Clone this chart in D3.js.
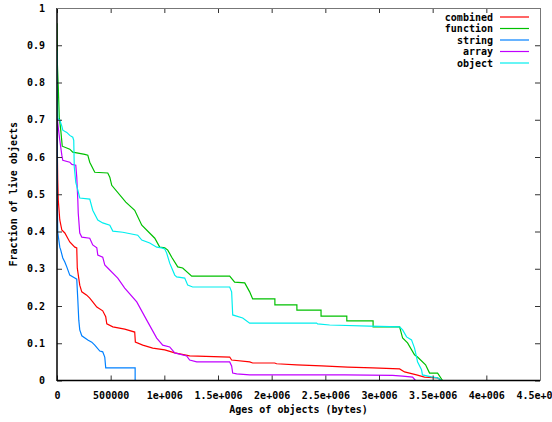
<!DOCTYPE html>
<html>
<head>
<meta charset="utf-8">
<script src="https://cdn.jsdelivr.net/npm/d3@7"></script>
<style>
  html, body { margin: 0; padding: 0; background: #fff; }
  svg { display: block; }
  text { font-family: "DejaVu Sans Mono", monospace; font-weight: bold; font-size: 10px; fill: #000; }
</style>
</head>
<body>
<div id="chart"></div>
<script>
// ---- Data (x: age in bytes, y: fraction of live objects) ----
const seriesNames = ["combined", "function", "string", "array", "object"];
const seriesColors = ["#ff0000", "#00c000", "#0080ff", "#c000ff", "#00eeee"];

const combinedData = [
  [0,0.720],[3000,0.618],[7000,0.538],[12000,0.484],[26000,0.431],[45000,0.404],[73000,0.396],
  [119000,0.372],[166000,0.358],[184000,0.356],[189000,0.302],[212000,0.256],[231000,0.238],
  [277000,0.229],[305000,0.221],[333000,0.211],[371000,0.197],[426000,0.187],[454000,0.171],
  [464000,0.152],[520000,0.144],[631000,0.138],[724000,0.130],[730000,0.103],[799000,0.095],
  [892000,0.087],[1004000,0.082],[1097000,0.074],[1236000,0.066],[1609000,0.063],[1627000,0.055],
  [1795000,0.050],[1823000,0.047],[2028000,0.047],[2046000,0.045],[2233000,0.042],[2466000,0.039],
  [2708000,0.036],[2941000,0.034],[3192000,0.031],[3238000,0.023],[3350000,0.015],[3424000,0.009],
  [3546000,0.007],[3583000,0]
];
const functionData = [
  [0,0.959],[3000,0.854],[12000,0.787],[21000,0.707],[35000,0.672],[49000,0.629],[119000,0.621],
  [147000,0.613],[259000,0.607],[287000,0.605],[305000,0.586],[352000,0.559],[473000,0.557],
  [492000,0.546],[510000,0.524],[641000,0.479],[724000,0.457],[790000,0.417],[911000,0.382],
  [957000,0.358],[1004000,0.356],[1032000,0.350],[1069000,0.331],[1125000,0.305],[1171000,0.302],
  [1255000,0.280],[1609000,0.280],[1655000,0.264],[1749000,0.262],[1795000,0.238],[1823000,0.219],
  [2030000,0.219],[2030000,0.203],[2235000,0.203],[2235000,0.189],[2460000,0.189],[2460000,0.173],
  [2700000,0.173],[2700000,0.160],[2945000,0.160],[2945000,0.144],[3192000,0.144],[3220000,0.114],
  [3266000,0.101],[3331000,0.069],[3359000,0.063],[3434000,0.042],[3471000,0.020],[3546000,0.020],
  [3592000,0]
];
const stringData = [
  [0,0.766],[3000,0.591],[3000,0.484],[7000,0.398],[26000,0.358],[35000,0.350],[54000,0.329],
  [73000,0.318],[91000,0.305],[119000,0.283],[166000,0.275],[184000,0.272],[194000,0.216],
  [203000,0.162],[212000,0.136],[231000,0.120],[287000,0.109],[324000,0.103],[352000,0.095],
  [399000,0.079],[426000,0.077],[445000,0.063],[454000,0.034],[728000,0.034],[728000,0],[1423000,0]
];
const arrayData = [
  [0,0.752],[3000,0.712],[7000,0.691],[26000,0.645],[45000,0.605],[54000,0.591],[119000,0.586],
  [138000,0.580],[175000,0.578],[184000,0.546],[194000,0.484],[198000,0.449],[212000,0.396],
  [231000,0.385],[305000,0.382],[333000,0.364],[371000,0.356],[380000,0.337],[426000,0.331],
  [445000,0.310],[473000,0.302],[566000,0.275],[631000,0.248],[743000,0.211],[836000,0.162],
  [929000,0.114],[985000,0.095],[1050000,0.090],[1097000,0.074],[1208000,0.066],[1236000,0.055],
  [1302000,0.050],[1609000,0.050],[1627000,0.039],[1637000,0.020],[1674000,0.018],[1795000,0.015],
  [2680000,0.015],[3127000,0.014],[3220000,0.012],[3313000,0.009],[3340000,0]
];
const objectData = [
  [0,0.886],[3000,0.779],[7000,0.704],[26000,0.699],[45000,0.683],[54000,0.672],[91000,0.666],
  [119000,0.658],[147000,0.653],[156000,0.645],[161000,0.573],[175000,0.532],[194000,0.511],
  [212000,0.490],[305000,0.487],[333000,0.457],[380000,0.431],[426000,0.423],[492000,0.417],
  [520000,0.401],[613000,0.398],[752000,0.390],[790000,0.377],[864000,0.369],[929000,0.358],
  [976000,0.356],[1004000,0.353],[1022000,0.342],[1050000,0.315],[1097000,0.283],[1115000,0.278],
  [1190000,0.275],[1218000,0.256],[1264000,0.251],[1609000,0.251],[1627000,0.238],[1637000,0.176],
  [1730000,0.168],[1795000,0.154],[2419000,0.154],[2428000,0.152],[2540000,0.149],[2912000,0.146],
  [3192000,0.144],[3220000,0.136],[3257000,0.117],[3303000,0.109],[3331000,0.087],[3350000,0.063],
  [3359000,0.050],[3396000,0.029],[3405000,0.015],[3499000,0.009],[3546000,0.007],[3583000,0]
];
const seriesData = [combinedData, functionData, stringData, arrayData, objectData];

const xTickValues = [0, 500000, 1000000, 1500000, 2000000, 2500000, 3000000, 3500000, 4000000, 4500000];
const xTickLabels = ["0", "500000", "1e+006", "1.5e+006", "2e+006", "2.5e+006", "3e+006", "3.5e+006", "4e+006", "4.5e+006"];
const yTickValues = [0, 0.1, 0.2, 0.3, 0.4, 0.5, 0.6, 0.7, 0.8, 0.9, 1];
const yTickLabels = ["0", "0.1", "0.2", "0.3", "0.4", "0.5", "0.6", "0.7", "0.8", "0.9", "1"];

const xTitle = "Ages of objects (bytes)";
const yTitle = "Fraction of live objects";

// ---- Layout ----
const W = 552, H = 422;
const L = 57, R = 540, T = 8, B = 380.5;

const svg = d3.select("#chart").append("svg").attr("width", W).attr("height", H);

const x = d3.scaleLinear().domain([0, 4500000]).range([L, R]);
const y = d3.scaleLinear().domain([0, 1]).range([B, T]);

svg.append("defs").append("clipPath").attr("id", "clip")
  .append("rect").attr("x", L).attr("y", T).attr("width", R - L).attr("height", B - T);

// Lines
const line = d3.line().x(d => x(d[0])).y(d => y(d[1]));
const plot = svg.append("g").attr("clip-path", "url(#clip)");
seriesData.forEach((data, i) => {
  plot.append("path").datum(data)
    .attr("d", line)
    .attr("fill", "none")
    .attr("stroke", seriesColors[i])
    .attr("stroke-width", 1.2)
    .attr("stroke-linejoin", "miter");
});

// Axes (ticks inward, mirrored)
const xFmt = (d, i) => xTickLabels[i];
const yFmt = (d, i) => yTickLabels[i];

const gxB = svg.append("g").attr("transform", `translate(0,${B})`)
  .call(d3.axisBottom(x).tickValues(xTickValues).tickFormat(xFmt).tickSizeInner(-5).tickSizeOuter(0).tickPadding(11));
const gxT = svg.append("g").attr("transform", `translate(0,${T})`)
  .call(d3.axisTop(x).tickValues(xTickValues).tickFormat("").tickSizeInner(-5).tickSizeOuter(0));
const gyL = svg.append("g").attr("transform", `translate(${L},0)`)
  .call(d3.axisLeft(y).tickValues(yTickValues).tickFormat(yFmt).tickSizeInner(-5).tickSizeOuter(0).tickPadding(12));
const gyR = svg.append("g").attr("transform", `translate(${R},0)`)
  .call(d3.axisRight(y).tickValues(yTickValues).tickFormat("").tickSizeInner(-5).tickSizeOuter(0));

[gxB, gxT, gyL, gyR].forEach(g => {
  g.select(".domain").remove();
  g.selectAll(".tick line").attr("stroke", "#333").attr("stroke-width", 1);
  g.selectAll("text").attr("font-family", null).attr("font-size", null).attr("fill", "#000");
});

// Border
svg.append("line").attr("x1", L).attr("x2", L).attr("y1", T).attr("y2", B + 0.5)
  .attr("stroke", "#000").attr("stroke-width", 1.5);
svg.append("line").attr("x1", L).attr("x2", R).attr("y1", B).attr("y2", B)
  .attr("stroke", "#000").attr("stroke-width", 1.5);
svg.append("line").attr("x1", L).attr("x2", R).attr("y1", T + 0.5).attr("y2", T + 0.5)
  .attr("stroke", "#777").attr("stroke-width", 1);
svg.append("line").attr("x1", R + 0.5).attr("x2", R + 0.5).attr("y1", T).attr("y2", B)
  .attr("stroke", "#777").attr("stroke-width", 1);

// Titles
svg.append("text").attr("x", (L + R) / 2).attr("y", 413).attr("text-anchor", "middle").text(xTitle);
svg.append("text").attr("transform", `translate(17,${(T + B) / 2}) rotate(-90)`)
  .attr("text-anchor", "middle").text(yTitle);

// Legend
const legend = svg.append("g");
seriesNames.forEach((name, i) => {
  const ly = 17 + i * 11.5;
  legend.append("text").attr("x", 493).attr("y", ly).attr("dy", "0.35em")
    .attr("text-anchor", "end").text(name);
  legend.append("line").attr("x1", 500).attr("x2", 529).attr("y1", ly).attr("y2", ly)
    .attr("stroke", seriesColors[i]).attr("stroke-width", 1.2);
});
</script>
</body>
</html>
